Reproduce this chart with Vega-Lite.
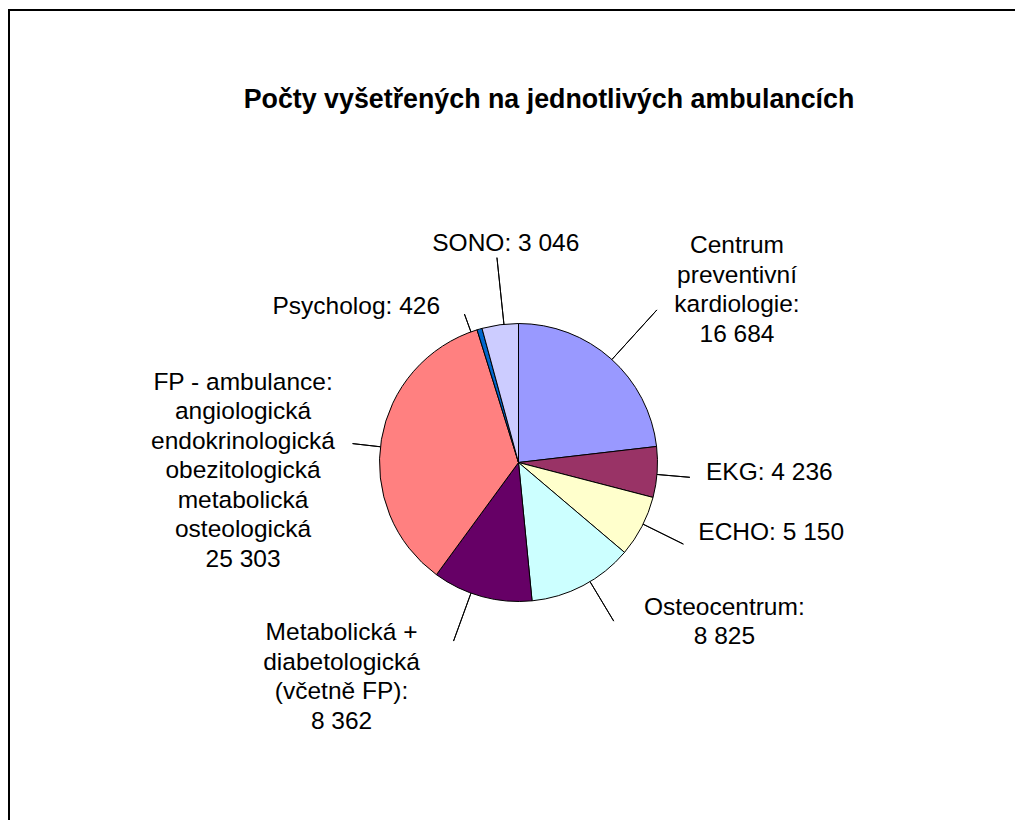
{
  "$schema": "https://vega.github.io/schema/vega-lite/v6.json",
  "autosize": "none",
  "width": 1019,
  "height": 905,
  "padding": {"left": 9, "top": 10, "right": -13, "bottom": -95},
  "background": "white",
  "view": {"stroke": "black", "strokeWidth": 2, "fill": "white", "strokeDash": [1006, 2032, 810]},
  "title": {
    "text": "Počty vyšetřených na jednotlivých ambulancích",
    "font": "Liberation Sans",
    "fontSize": 26.8,
    "fontWeight": "bold",
    "color": "black",
    "anchor": "middle",
    "frame": "group",
    "baseline": "alphabetic",
    "offset": 0,
    "dx": 30.5,
    "dy": 125
  },
  "data": {
    "values": [
      {"idx": 1, "cat": "Centrum", "value": 16684, "label": "Centrum\npreventivní\nkardiologie:\n16 684"},
      {"idx": 2, "cat": "EKG", "value": 4236, "label": "EKG: 4 236"},
      {"idx": 3, "cat": "ECHO", "value": 5150, "label": "ECHO: 5 150"},
      {"idx": 4, "cat": "Osteocentrum", "value": 8825, "label": "Osteocentrum:\n8 825"},
      {"idx": 5, "cat": "Metabolická", "value": 8362, "label": "Metabolická +\ndiabetologická\n(včetně FP):\n8 362"},
      {"idx": 6, "cat": "FP", "value": 25303, "label": "FP - ambulance:\nangiologická\nendokrinologická\nobezitologická\nmetabolická\nosteologická\n25 303"},
      {"idx": 7, "cat": "Psycholog", "value": 426, "label": "Psycholog: 426"},
      {"idx": 8, "cat": "SONO", "value": 3046, "label": "SONO: 3 046"}
    ]
  },
  "encoding": {
    "theta": {"field": "value", "type": "quantitative", "stack": true},
    "order": {"field": "idx", "type": "quantitative"},
    "detail": {"field": "cat", "type": "nominal"}
  },
  "layer": [
    {
      "mark": {"type": "arc", "radius": 139, "stroke": "black", "strokeWidth": 1},
      "encoding": {
        "color": {
          "field": "cat",
          "type": "nominal",
          "legend": null,
          "scale": {
            "domain": ["Centrum", "EKG", "ECHO", "Osteocentrum", "Metabolická", "FP", "Psycholog", "SONO"],
            "range": ["#9999FF", "#993366", "#FFFFCC", "#CCFFFF", "#660066", "#FF8080", "#0066CC", "#CCCCFF"]
          }
        }
      }
    },
    {
      "mark": {"type": "arc", "radius": 206, "radius2": 139, "padAngle": 3.14, "thetaOffset": 0.009, "theta2Offset": 0.009, "filled": false, "stroke": "black", "strokeWidth": 1},
      "encoding": {"strokeOpacity": {"condition": {"test": "datum.cat === 'Centrum'", "value": 1}, "value": 0}}
    },
    {
      "mark": {"type": "arc", "radius": 172, "radius2": 139, "padAngle": 3.14, "thetaOffset": 0.017, "theta2Offset": 0.017, "filled": false, "stroke": "black", "strokeWidth": 1},
      "encoding": {"strokeOpacity": {"condition": {"test": "datum.cat === 'EKG'", "value": 1}, "value": 0}}
    },
    {
      "mark": {"type": "arc", "radius": 184, "radius2": 139, "padAngle": 3.14, "thetaOffset": -0.019, "theta2Offset": -0.019, "filled": false, "stroke": "black", "strokeWidth": 1},
      "encoding": {"strokeOpacity": {"condition": {"test": "datum.cat === 'ECHO'", "value": 1}, "value": 0}}
    },
    {
      "mark": {"type": "arc", "radius": 185, "radius2": 139, "padAngle": 3.14, "thetaOffset": -0.058, "theta2Offset": -0.058, "filled": false, "stroke": "black", "strokeWidth": 1},
      "encoding": {"strokeOpacity": {"condition": {"test": "datum.cat === 'Osteocentrum'", "value": 1}, "value": 0}}
    },
    {
      "mark": {"type": "arc", "radius": 190, "radius2": 139, "padAngle": 3.14, "thetaOffset": 0.082, "theta2Offset": 0.082, "filled": false, "stroke": "black", "strokeWidth": 1},
      "encoding": {"strokeOpacity": {"condition": {"test": "datum.cat === 'Metabolická'", "value": 1}, "value": 0}}
    },
    {
      "mark": {"type": "arc", "radius": 167, "radius2": 139, "padAngle": 3.14, "thetaOffset": -0.051, "theta2Offset": -0.051, "filled": false, "stroke": "black", "strokeWidth": 1},
      "encoding": {"strokeOpacity": {"condition": {"test": "datum.cat === 'FP'", "value": 1}, "value": 0}}
    },
    {
      "mark": {"type": "arc", "radius": 158, "radius2": 139, "padAngle": 3.14, "thetaOffset": -0.065, "theta2Offset": -0.065, "filled": false, "stroke": "black", "strokeWidth": 1},
      "encoding": {"strokeOpacity": {"condition": {"test": "datum.cat === 'Psycholog'", "value": 1}, "value": 0}}
    },
    {
      "mark": {"type": "arc", "radius": 206, "radius2": 139, "padAngle": 3.14, "thetaOffset": 0.028, "theta2Offset": 0.028, "filled": false, "stroke": "black", "strokeWidth": 1},
      "encoding": {"strokeOpacity": {"condition": {"test": "datum.cat === 'SONO'", "value": 1}, "value": 0}}
    },
    {
      "mark": {"type": "text", "radius": 206, "dx": 81.5, "dy": -55.2, "align": "center", "baseline": "alphabetic", "font": "Liberation Sans", "fontSize": 24.5, "lineHeight": 29.5, "lineBreak": "\n", "fill": "black"},
      "encoding": {"text": {"condition": {"test": "datum.cat === 'Centrum'", "field": "label"}, "value": ""}}
    },
    {
      "mark": {"type": "text", "radius": 172, "dx": 15.9, "dy": 5.6, "align": "left", "baseline": "alphabetic", "font": "Liberation Sans", "fontSize": 24.5, "lineHeight": 29.5, "lineBreak": "\n", "fill": "black"},
      "encoding": {"text": {"condition": {"test": "datum.cat === 'EKG'", "field": "label"}, "value": ""}}
    },
    {
      "mark": {"type": "text", "radius": 184, "dx": 16.5, "dy": -7.2, "align": "left", "baseline": "alphabetic", "font": "Liberation Sans", "fontSize": 24.5, "lineHeight": 29.5, "lineBreak": "\n", "fill": "black"},
      "encoding": {"text": {"condition": {"test": "datum.cat === 'ECHO'", "field": "label"}, "value": ""}}
    },
    {
      "mark": {"type": "text", "radius": 185, "dx": 120, "dy": -11.8, "align": "center", "baseline": "alphabetic", "font": "Liberation Sans", "fontSize": 24.5, "lineHeight": 29.5, "lineBreak": "\n", "fill": "black"},
      "encoding": {"text": {"condition": {"test": "datum.cat === 'Osteocentrum'", "field": "label"}, "value": ""}}
    },
    {
      "mark": {"type": "text", "radius": 197, "dx": -125, "dy": -12.5, "align": "center", "baseline": "alphabetic", "font": "Liberation Sans", "fontSize": 24.5, "lineHeight": 29.5, "lineBreak": "\n", "fill": "black"},
      "encoding": {"text": {"condition": {"test": "datum.cat === 'Metabolická'", "field": "label"}, "value": ""}}
    },
    {
      "mark": {"type": "text", "radius": 167, "dx": -110.7, "dy": -45.4, "align": "center", "baseline": "alphabetic", "font": "Liberation Sans", "fontSize": 24.5, "lineHeight": 29.5, "lineBreak": "\n", "fill": "black"},
      "encoding": {"text": {"condition": {"test": "datum.cat === 'FP'", "field": "label"}, "value": ""}}
    },
    {
      "mark": {"type": "text", "radius": 160, "dx": -33.6, "dy": 5.1, "align": "right", "baseline": "alphabetic", "font": "Liberation Sans", "fontSize": 24.5, "lineHeight": 29.5, "lineBreak": "\n", "fill": "black"},
      "encoding": {"text": {"condition": {"test": "datum.cat === 'Psycholog'", "field": "label"}, "value": ""}}
    },
    {
      "mark": {"type": "text", "radius": 206, "dx": 14.6, "dy": -7.6, "align": "center", "baseline": "alphabetic", "font": "Liberation Sans", "fontSize": 24.5, "lineHeight": 29.5, "lineBreak": "\n", "fill": "black"},
      "encoding": {"text": {"condition": {"test": "datum.cat === 'SONO'", "field": "label"}, "value": ""}}
    }
  ]
}
